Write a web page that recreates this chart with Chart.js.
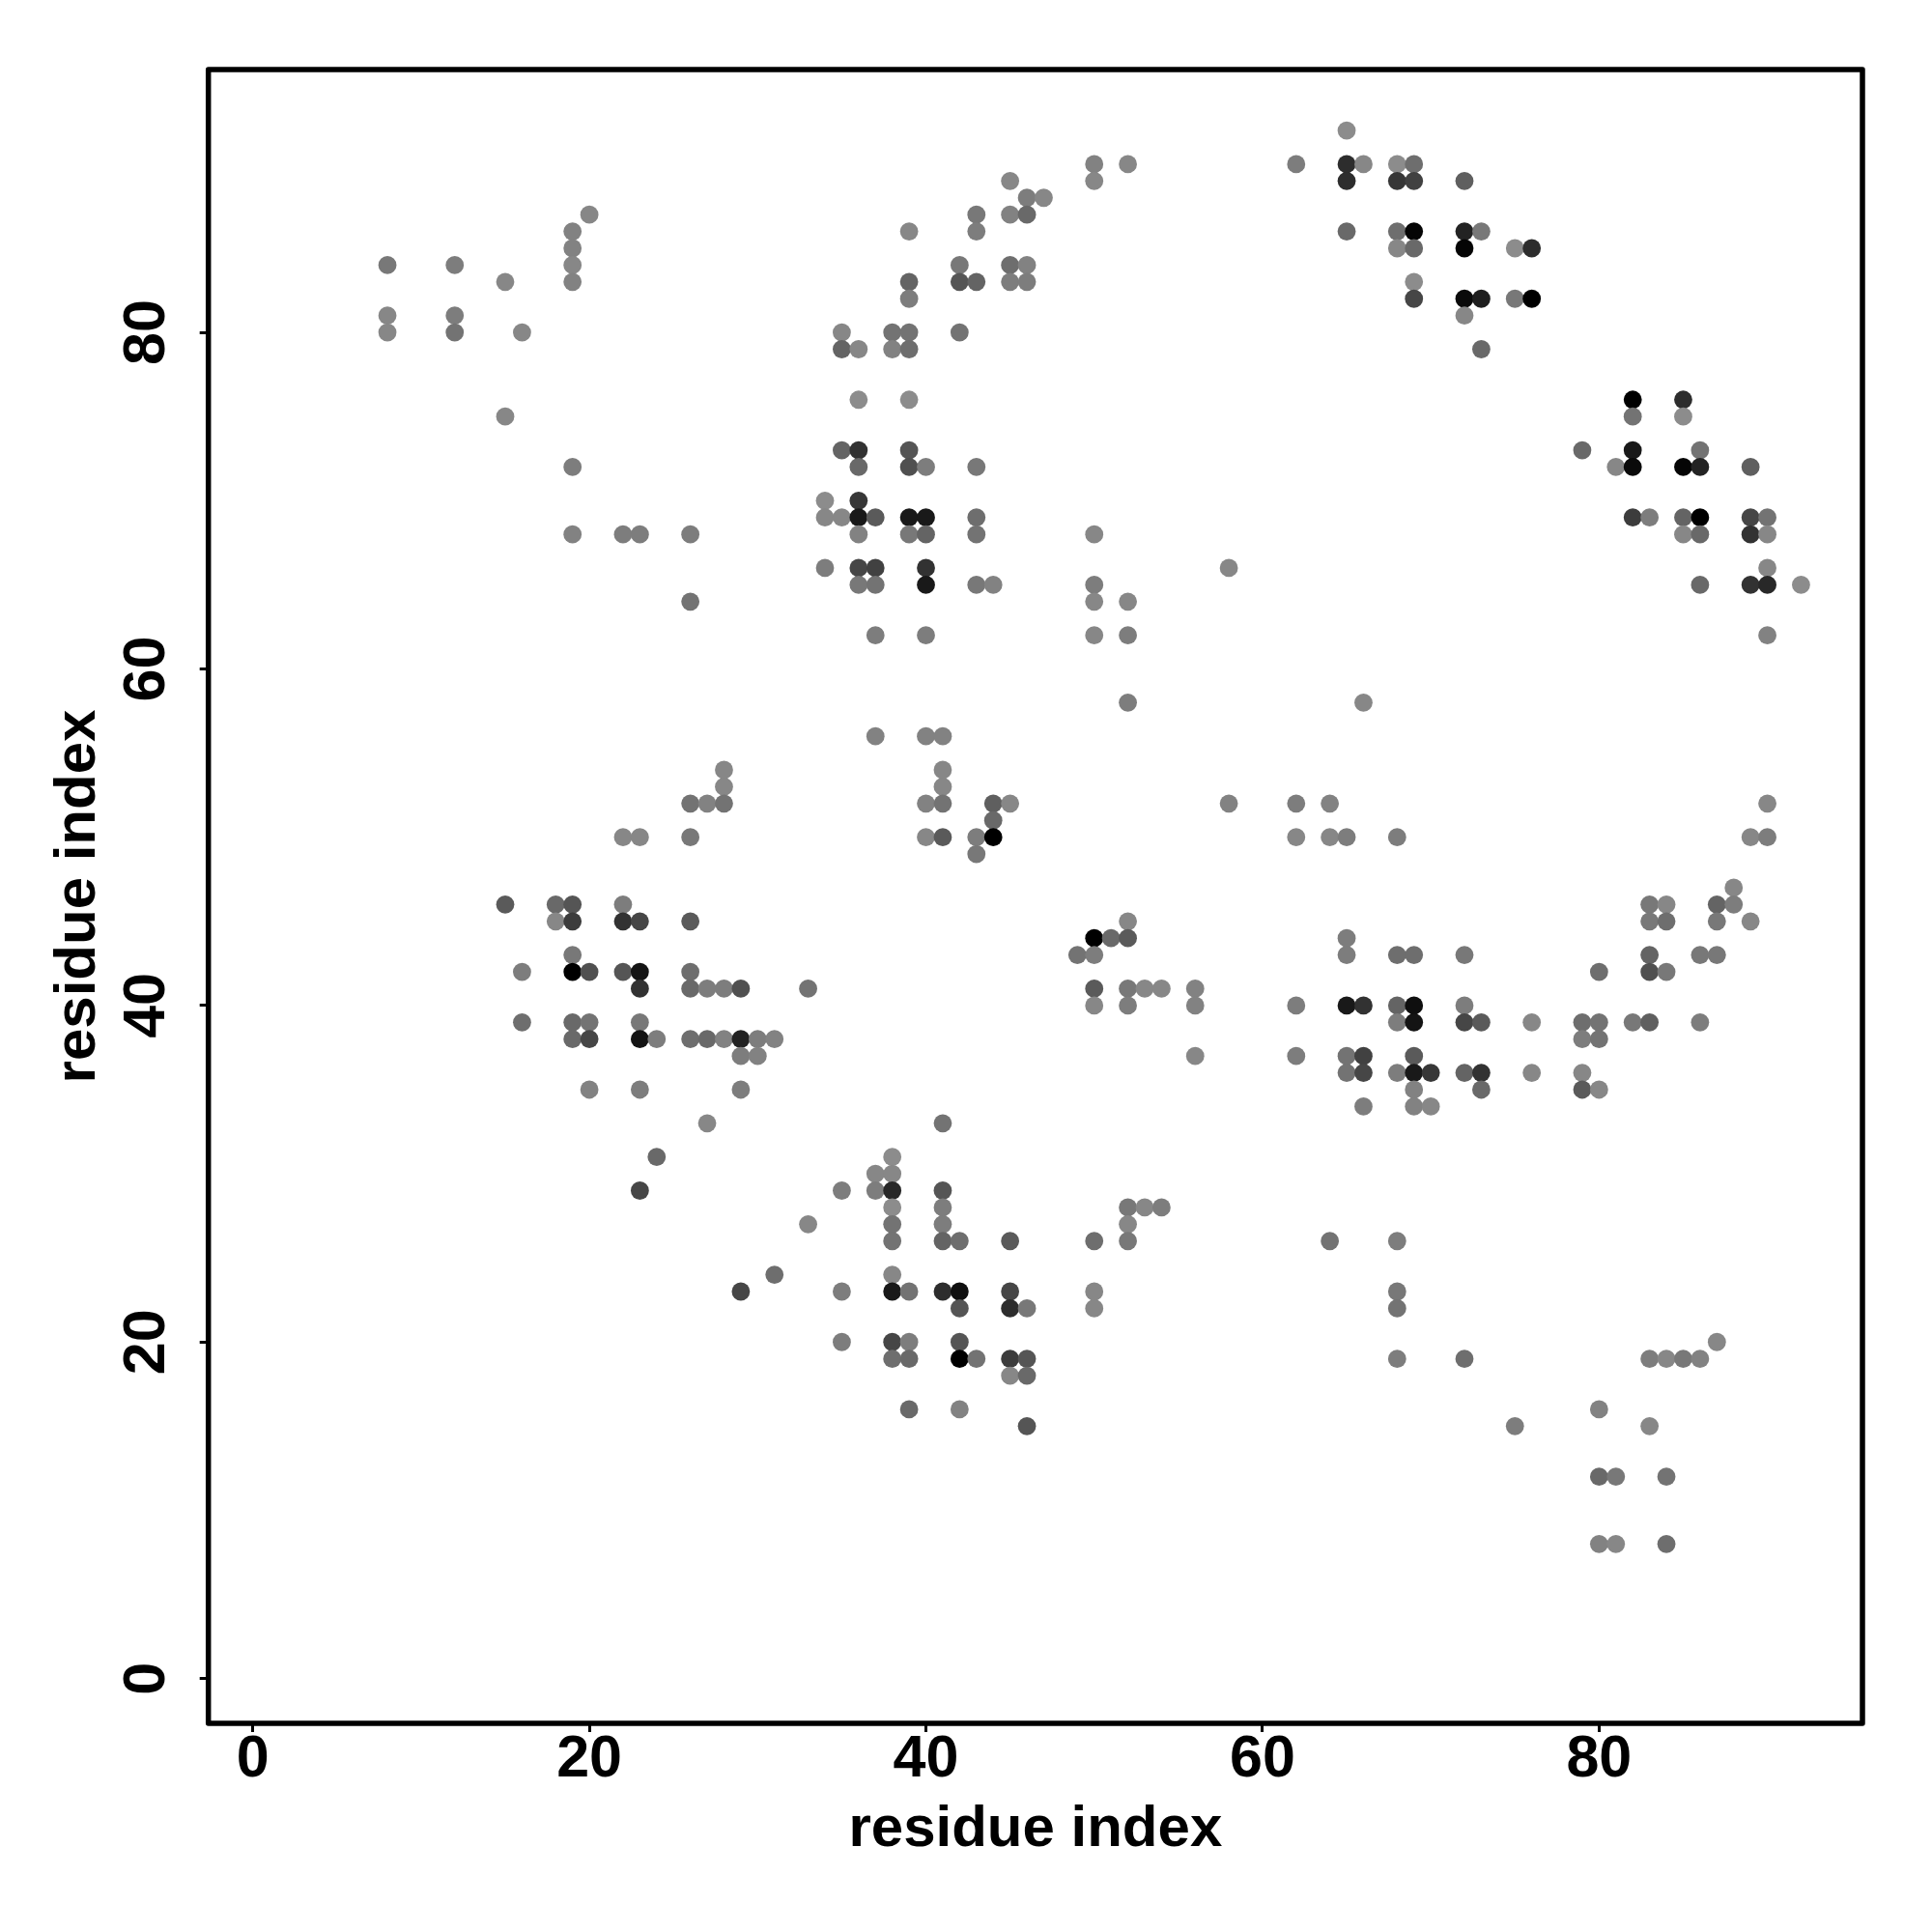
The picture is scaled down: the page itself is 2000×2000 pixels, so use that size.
<!DOCTYPE html>
<html>
<head>
<meta charset="utf-8">
<style>html,body{margin:0;padding:0;background:#fff}canvas{display:block}</style>
<script src="https://cdn.jsdelivr.net/npm/chart.js@4"></script>
</head>
<body>
<canvas id="c" width="2000" height="2000"></canvas>
<script>
const xTicks = [0, 20, 40, 60, 80];
const yTicks = [0, 20, 40, 60, 80];
const axisTitle = "residue index";

const rowY = [92,90,89,88,87,86,85,84,83,82,81,80,79,76,75,73,72,70,69,68,66,65,64,62,58,56,54,53,52,51,50,49,47,46,45,44,43,42,41,40,39,38,37,36,35,34,33,31,30,29,28,27,26,24,23,22,20,19,18,16,15,12,8];
const rowX = [
[65],
[50,52,62,65,66,68,69],
[45,50,65,68,69,72],
[46,47],
[20,43,45,46],
[19,39,43,65,68,69,72,73],
[19,68,69,72,75,76],
[8,12,19,42,45,46],
[15,19,39,42,43,45,46,69],
[39,69,72,73,75,76],
[8,12,72],
[8,12,16,35,38,39,42],
[35,36,38,39,73],
[36,39,82,85],
[15,82,85],
[35,36,39,79,82,86],
[19,36,39,40,43,81,82,85,86,89],
[34,36],
[34,35,36,37,39,40,43,82,83,85,86,89,90],
[19,22,23,26,36,39,40,43,50,85,86,89,90],
[34,36,37,40,58,90],
[36,37,40,43,44,50,86,89,90,92],
[26,50,52],
[37,40,50,52,90],
[52,66],
[37,40,41],
[28,41],
[28,41],
[26,27,28,40,41,44,45,58,62,64,90],
[44],
[22,23,26,40,41,43,44,62,64,65,68,89,90],
[43],
[88],
[15,18,19,22,83,84,87,88],
[18,19,22,23,26,52,83,84,87,89],
[50,51,52,65],
[19,49,50,65,68,69,72,83,86,87],
[16,19,20,22,23,26,80,83,84],
[23,26,27,28,29,33,50,52,53,54,56],
[50,52,56,62,65,66,68,69,72],
[16,19,20,23,68,69,72,73,76,79,80,82,83,86],
[19,20,23,24,26,27,28,29,30,31,79,80],
[29,30,56,62,65,66,69],
[65,66,68,69,70,72,73,76,79],
[20,23,29,69,73,79,80],
[66,69,70],
[27,41],
[24,38],
[37,38],
[23,35,37,38,41],
[38,41,52,53,54],
[33,38,41,52],
[38,41,42,45,50,52,64,68],
[31,38],
[29,35,38,39,41,42,45,50,68],
[42,45,46,50,68],
[35,38,39,42,87],
[38,39,42,43,45,46,68,72,83,84,85,86],
[45,46],
[39,42,80],
[46,75,83],
[80,81,84],
[80,81,84]
];
const rowGray = [
[140],
[130,135,125,45,135,140,110],
[135,135,45,55,65,95],
[125,135],
[135,120,130,105],
[130,135,125,105,110,5,35,120],
[130,135,105,5,140,45],
[120,125,135,120,110,130],
[135,130,100,85,100,125,125,140],
[125,70,10,30,120,0],
[135,125,135],
[135,115,135,135,115,115,115],
[100,135,130,110,105],
[140,140,0,45],
[135,115,140],
[100,50,85,105,25,115],
[125,105,80,125,120,135,10,5,35,95],
[140,55],
[135,135,25,90,25,25,110,60,125,100,0,70,115],
[130,125,125,125,130,120,100,115,135,135,105,50,135],
[125,70,65,50,135,135],
[120,115,25,120,130,125,105,50,40,140],
[115,135,135],
[125,125,135,125,130],
[125,135],
[130,130,130],
[135,135],
[135,135],
[115,130,115,130,115,95,135,130,125,130,135],
[105],
[135,135,120,135,90,125,0,135,135,125,125,135,125],
[120],
[135],
[90,105,85,125,120,135,100,125],
[135,60,50,70,90,135,120,110,120,135],
[0,105,90,125],
[120,115,125,125,110,110,120,100,120,120],
[125,0,80,85,20,110,110,80,120],
[50,105,125,125,80,115,90,120,135,135,130],
[135,125,130,125,25,50,100,15,125],
[110,105,115,120,125,20,70,90,135,110,115,120,95,125],
[105,70,20,125,110,105,130,35,125,130,125,115],
[125,130,135,125,115,65,90],
[115,70,125,25,55,100,50,135,135],
[130,125,125,130,105,90,135],
[125,130,135],
[135,115],
[105,140],
[135,135],
[70,125,125,40,85],
[140,125,120,135,125],
[135,115,125,135],
[115,100,110,90,110,120,115,125],
[110,135],
[70,125,25,115,45,15,70,135,120],
[85,45,120,135,115],
[125,70,125,85,135],
[110,105,0,115,60,85,125,110,125,135,120,130],
[135,105],
[105,130,130],
[85,125,135],
[105,120,115],
[130,135,110]
];

const points = [];
const colors = [];
rowY.forEach((y, r) => {
  rowX[r].forEach((x, i) => {
    const g = rowGray[r][i];
    points.push({x, y});
    colors.push(`rgb(${g},${g},${g})`);
  });
});

const FONT = '"Liberation Sans", Arial, sans-serif';

const framePlugin = {
  id: 'frame',
  afterDraw(chart) {
    const a = chart.chartArea, ctx = chart.ctx;
    ctx.save();
    ctx.strokeStyle = '#000';
    ctx.lineWidth = 5.5;
    ctx.lineJoin = 'round';
    ctx.strokeRect(a.left, a.top, a.right - a.left, a.bottom - a.top);
    ctx.restore();
  }
};

new Chart(document.getElementById('c'), {
  type: 'scatter',
  plugins: [framePlugin],
  data: {
    datasets: [{
      data: points,
      pointBackgroundColor: colors,
      pointBorderWidth: 0,
      pointRadius: 9.4,
      showLine: false
    }]
  },
  options: {
    responsive: false,
    animation: false,
    devicePixelRatio: 1,
    layout: {padding: {left: 0, top: 72, right: 72, bottom: 0}},
    plugins: {legend: {display: false}, tooltip: {enabled: false}, title: {display: false}},
    scales: {
      x: {
        type: 'linear',
        min: -2.64,
        max: 95.65,
        afterFit(s) { s.height = 216; },
        afterBuildTicks(s) { s.ticks = xTicks.map(value => ({value})); },
        border: {display: false},
        grid: {drawOnChartArea: false, drawTicks: true, tickLength: 9, tickWidth: 3, tickColor: '#000'},
        ticks: {
          autoSkip: false, maxRotation: 0, minRotation: 0, padding: -7, color: '#000',
          font: {family: FONT, weight: 'bold', size: 61},
          callback: v => String(v)
        },
        title: {
          display: true, text: axisTitle, color: '#000',
          font: {family: FONT, weight: 'bold', size: 60},
          padding: {top: 0, bottom: 70}
        }
      },
      y: {
        type: 'linear',
        min: -2.66,
        max: 95.62,
        afterFit(s) { s.width = 215.7; },
        afterBuildTicks(s) { s.ticks = yTicks.map(value => ({value})); },
        border: {display: false},
        grid: {drawOnChartArea: false, drawTicks: true, tickLength: 9, tickWidth: 3, tickColor: '#000'},
        ticks: {
          autoSkip: false, minRotation: 90, maxRotation: 90, padding: 20, crossAlign: 'center', color: '#000',
          font: {family: FONT, weight: 'bold', size: 61},
          callback: v => String(v)
        },
        title: {
          display: true, text: axisTitle, color: '#000',
          font: {family: FONT, weight: 'bold', size: 60},
          padding: {top: 45, bottom: 0}
        }
      }
    }
  }
});
</script>
</body>
</html>
